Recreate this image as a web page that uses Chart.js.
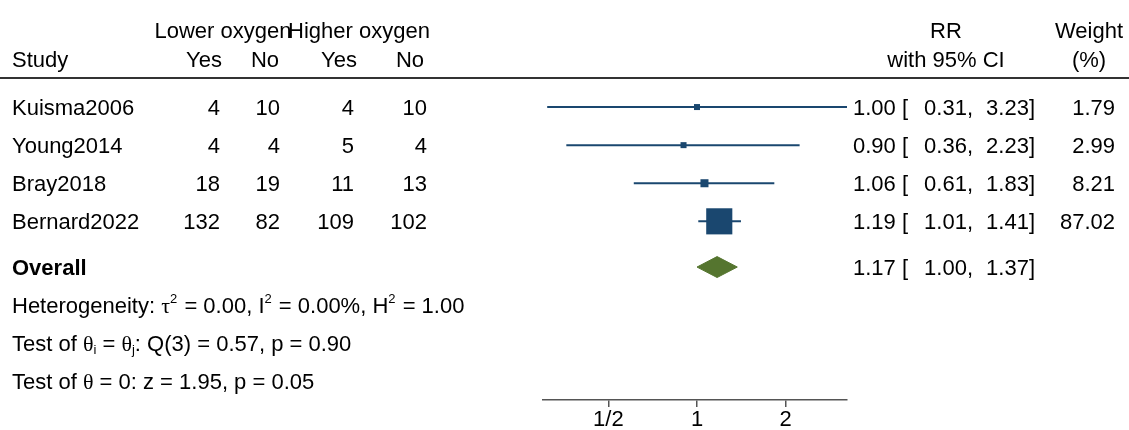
<!DOCTYPE html>
<html lang="en">
<head>
<meta charset="UTF-8">
<title>Forest plot - lower vs higher oxygen</title>
<script src="https://cdn.jsdelivr.net/npm/chart.js"></script>
<style>
  body { margin: 0; background: #fff; }
  #wrap { width: 1129px; height: 430px; position: relative; }
</style>
</head>
<body>
<div id="wrap"><canvas id="forest"></canvas></div>
<script>
// study data
const studies = ['Kuisma2006', 'Young2014', 'Bray2018', 'Bernard2022'];
const lowerYes = [4, 4, 18, 132];
const lowerNo = [10, 4, 19, 82];
const higherYes = [4, 5, 11, 109];
const higherNo = [10, 4, 13, 102];
const rr = [1.00, 0.90, 1.06, 1.19];
const ciLow = [0.31, 0.36, 0.61, 1.01];
const ciHigh = [3.23, 2.23, 1.83, 1.41];
const weights = [1.79, 2.99, 8.21, 87.02];
const overallRR = [1.17];
const overallLow = [1.00];
const overallHigh = [1.37];
const tickValues = [0.5, 1, 2];
const tickLabels = ['1/2', '1', '2'];

// footer text, [text, kind]; kind: 'sup' | 'sub' | 'greek'
const statLines = [
  [['Heterogeneity: '], ['τ', 'greek'], ['2', 'sup'], [' = 0.00, I'], ['2', 'sup'], [' = 0.00%, H'], ['2', 'sup'], [' = 1.00']],
  [['Test of '], ['θ', 'greek'], ['i', 'sub'], [' = '], ['θ', 'greek'], ['j', 'sub'], [': Q(3) = 0.57, p = 0.90']],
  [['Test of '], ['θ', 'greek'], [' = 0: z = 1.95, p = 0.05']]
];

const FAM = '"Liberation Sans", Arial, Helvetica, sans-serif';
const SERIF = '"Liberation Serif", "Times New Roman", serif';
const SIZE = 22;
const NAVY = '#1a476f';
const GREEN = '#55752f';
const overallRow = 4.2;
const statRows = [5.2, 6.2, 7.2];

function fmt(v) { return v.toFixed(2); }

function text(ctx, s, x, y, align, bold) {
  ctx.font = (bold ? 'bold ' : '') + SIZE + 'px ' + FAM;
  ctx.textAlign = align || 'left';
  ctx.fillText(s, x, y + 7.5);
}

function richText(ctx, parts, x, y) {
  ctx.textAlign = 'left';
  parts.forEach(([s, kind]) => {
    let dy = 7.5;
    if (kind === 'sup' || kind === 'sub') {
      ctx.font = '13px ' + FAM;
      dy = kind === 'sup' ? -2 : 11;
    } else if (kind === 'greek') {
      ctx.font = SIZE + 'px ' + SERIF;
    } else {
      ctx.font = SIZE + 'px ' + FAM;
    }
    ctx.fillText(s, x, y + dy);
    x += ctx.measureText(s).width + (kind === 'sup' ? 1 : 0);
  });
}

const tablePlugin = {
  id: 'tableText',
  afterDraw(chart) {
    const ctx = chart.ctx;
    const y = chart.scales.y;
    ctx.save();
    ctx.fillStyle = '#000';
    ctx.textBaseline = 'alphabetic';

    // headers
    const h1 = y.getPixelForValue(-2.0);
    text(ctx, 'Lower oxygen', 223, h1, 'center');
    text(ctx, 'Higher oxygen', 359, h1, 'center');
    text(ctx, 'RR', 946, h1, 'center');
    text(ctx, 'Weight', 1089, h1, 'center');
    const h2 = y.getPixelForValue(-1.25);
    text(ctx, 'Study', 12, h2);
    text(ctx, 'Yes', 222, h2, 'right');
    text(ctx, 'No', 279, h2, 'right');
    text(ctx, 'Yes', 357, h2, 'right');
    text(ctx, 'No', 424, h2, 'right');
    text(ctx, 'with 95% CI', 946, h2, 'center');
    text(ctx, '(%)', 1089, h2, 'center');

    const ly = y.getPixelForValue(-0.76);
    ctx.strokeStyle = '#333';
    ctx.lineWidth = 2;
    ctx.beginPath();
    ctx.moveTo(0, ly);
    ctx.lineTo(chart.width, ly);
    ctx.stroke();

    studies.forEach((name, i) => {
      const py = y.getPixelForValue(i);
      text(ctx, name, 12, py);
      text(ctx, String(lowerYes[i]), 220, py, 'right');
      text(ctx, String(lowerNo[i]), 280, py, 'right');
      text(ctx, String(higherYes[i]), 354, py, 'right');
      text(ctx, String(higherNo[i]), 427, py, 'right');
      text(ctx, fmt(rr[i]) + ' [', 853, py);
      text(ctx, fmt(ciLow[i]) + ',', 973, py, 'right');
      text(ctx, fmt(ciHigh[i]) + ']', 1035, py, 'right');
      text(ctx, fmt(weights[i]), 1115, py, 'right');
    });

    const oy = y.getPixelForValue(overallRow);
    text(ctx, 'Overall', 12, oy, 'left', true);
    text(ctx, fmt(overallRR[0]) + ' [', 853, oy);
    text(ctx, fmt(overallLow[0]) + ',', 973, oy, 'right');
    text(ctx, fmt(overallHigh[0]) + ']', 1035, oy, 'right');

    statLines.forEach((parts, i) => richText(ctx, parts, 12, y.getPixelForValue(statRows[i])));
    ctx.restore();
  }
};

// square side grows with sqrt(weight), Stata-like minimum
const squareRadius = weights.map(w => Math.max(6, 2.8 * Math.sqrt(w)) / (2 * Math.SQRT1_2));

const datasets = [
  {
    label: 'RR',
    data: rr.map((v, i) => ({ x: v, y: i })),
    pointStyle: 'rect',
    pointRadius: squareRadius,
    backgroundColor: NAVY,
    borderWidth: 0,
    clip: false
  },
  {
    label: 'Overall',
    data: [
      { x: overallLow[0], y: overallRow },
      { x: overallRR[0], y: overallRow - 0.275 },
      { x: overallHigh[0], y: overallRow },
      { x: overallRR[0], y: overallRow + 0.275 },
      { x: overallLow[0], y: overallRow }
    ],
    showLine: true,
    fill: 'shape',
    backgroundColor: GREEN,
    borderColor: GREEN,
    borderWidth: 1,
    pointRadius: 0,
    tension: 0,
    clip: false
  }
];
studies.forEach((s, i) => {
  datasets.push({
    label: s + ' CI',
    data: [{ x: ciLow[i], y: i }, { x: ciHigh[i], y: i }],
    showLine: true,
    borderColor: NAVY,
    borderWidth: 2,
    pointRadius: 0,
    fill: false,
    clip: false
  });
});

new Chart(document.getElementById('forest'), {
  type: 'scatter',
  data: { datasets },
  options: {
    responsive: true,
    maintainAspectRatio: false,
    animation: false,
    layout: { autoPadding: false, padding: { left: 543, right: 282, top: 0, bottom: 0 } },
    plugins: { legend: { display: false }, tooltip: { enabled: false } },
    scales: {
      x: {
        type: 'logarithmic',
        min: 0.31,
        max: 3.23,
        afterBuildTicks: s => { s.ticks = tickValues.map(v => ({ value: v })); },
        afterFit: s => { s.height = 30; },
        ticks: {
          callback: v => { const k = tickValues.indexOf(v); return k < 0 ? '' : tickLabels[k]; },
          color: '#000',
          font: { size: SIZE, family: FAM },
          padding: 0,
          maxRotation: 0,
          autoSkip: false
        },
        grid: { drawOnChartArea: false, drawTicks: true, tickLength: 7, color: '#555', lineWidth: 1.5 },
        border: { display: true, color: '#555', width: 1.5 }
      },
      y: {
        type: 'linear',
        display: false,
        reverse: true,
        min: -2.81,
        max: 7.69
      }
    }
  },
  plugins: [tablePlugin]
});
</script>
</body>
</html>
